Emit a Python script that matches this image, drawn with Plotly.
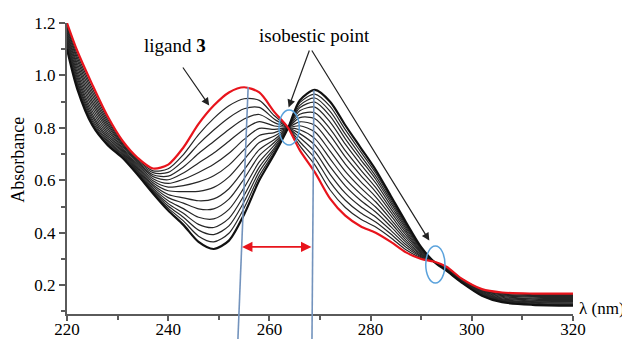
import plotly.graph_objects as go

# Wavelengths (nm)
wavelength = [220, 222, 225, 228, 231, 234, 237, 240, 243, 246, 249, 252, 255, 258, 261, 263.7,
              266, 269, 272, 275, 278, 281, 284, 287, 290, 292.5, 295, 298, 302, 306, 312, 320]

# Ligand 3 (red) spectrum
curve_ligand = [1.200, 1.095, 0.965, 0.845, 0.750, 0.685, 0.645, 0.660, 0.725, 0.815, 0.885, 0.935, 0.955, 0.935, 0.860, 0.800,
                0.715, 0.630, 0.530, 0.465, 0.425, 0.400, 0.365, 0.325, 0.300, 0.290, 0.270, 0.225, 0.185, 0.172, 0.168, 0.168]
# Titration spectra (black)
curve_01 = [1.191, 1.082, 0.951, 0.835, 0.744, 0.679, 0.636, 0.644, 0.698, 0.774, 0.836, 0.884, 0.911, 0.905, 0.846, 0.800,
            0.732, 0.658, 0.563, 0.496, 0.452, 0.422, 0.381, 0.335, 0.304, 0.290, 0.269, 0.224, 0.183, 0.169, 0.164, 0.164]
curve_02 = [1.183, 1.070, 0.939, 0.826, 0.739, 0.674, 0.629, 0.630, 0.675, 0.738, 0.792, 0.839, 0.873, 0.878, 0.833, 0.800,
            0.747, 0.684, 0.593, 0.524, 0.476, 0.441, 0.395, 0.345, 0.308, 0.290, 0.267, 0.222, 0.181, 0.166, 0.161, 0.160]
curve_03 = [1.175, 1.059, 0.926, 0.817, 0.734, 0.669, 0.621, 0.616, 0.651, 0.702, 0.748, 0.794, 0.834, 0.851, 0.820, 0.800,
            0.763, 0.709, 0.623, 0.551, 0.500, 0.460, 0.409, 0.354, 0.311, 0.290, 0.266, 0.221, 0.179, 0.163, 0.157, 0.156]
curve_04 = [1.167, 1.047, 0.914, 0.809, 0.729, 0.664, 0.614, 0.602, 0.628, 0.666, 0.704, 0.749, 0.795, 0.824, 0.807, 0.800,
            0.778, 0.734, 0.652, 0.579, 0.524, 0.479, 0.423, 0.363, 0.315, 0.290, 0.265, 0.220, 0.177, 0.160, 0.154, 0.153]
curve_05 = [1.159, 1.036, 0.901, 0.800, 0.723, 0.658, 0.606, 0.588, 0.604, 0.630, 0.661, 0.703, 0.756, 0.798, 0.794, 0.800,
            0.793, 0.759, 0.682, 0.606, 0.548, 0.498, 0.437, 0.372, 0.318, 0.290, 0.264, 0.219, 0.175, 0.157, 0.150, 0.149]
curve_06 = [1.151, 1.024, 0.889, 0.791, 0.718, 0.653, 0.598, 0.574, 0.580, 0.594, 0.617, 0.658, 0.717, 0.771, 0.782, 0.800,
            0.808, 0.784, 0.711, 0.634, 0.572, 0.518, 0.451, 0.381, 0.322, 0.290, 0.263, 0.218, 0.173, 0.154, 0.147, 0.145]
curve_07 = [1.143, 1.012, 0.877, 0.782, 0.713, 0.648, 0.591, 0.560, 0.557, 0.558, 0.573, 0.613, 0.679, 0.744, 0.769, 0.800,
            0.823, 0.810, 0.741, 0.662, 0.596, 0.537, 0.465, 0.391, 0.326, 0.290, 0.261, 0.216, 0.171, 0.151, 0.143, 0.142]
curve_08 = [1.135, 1.001, 0.864, 0.773, 0.708, 0.643, 0.583, 0.546, 0.533, 0.522, 0.529, 0.568, 0.640, 0.717, 0.756, 0.800,
            0.839, 0.835, 0.771, 0.689, 0.620, 0.556, 0.479, 0.400, 0.329, 0.290, 0.260, 0.215, 0.169, 0.148, 0.140, 0.138]
curve_09 = [1.128, 0.991, 0.853, 0.766, 0.703, 0.638, 0.577, 0.534, 0.513, 0.491, 0.491, 0.528, 0.606, 0.694, 0.745, 0.800,
            0.852, 0.857, 0.796, 0.713, 0.641, 0.573, 0.491, 0.408, 0.332, 0.290, 0.259, 0.214, 0.167, 0.145, 0.137, 0.135]
curve_10 = [1.121, 0.980, 0.843, 0.758, 0.699, 0.634, 0.570, 0.522, 0.492, 0.459, 0.453, 0.489, 0.572, 0.670, 0.734, 0.800,
            0.865, 0.879, 0.822, 0.738, 0.662, 0.590, 0.503, 0.416, 0.336, 0.290, 0.258, 0.213, 0.165, 0.143, 0.134, 0.132]
curve_11 = [1.115, 0.972, 0.833, 0.751, 0.695, 0.630, 0.564, 0.511, 0.474, 0.432, 0.420, 0.455, 0.543, 0.650, 0.724, 0.800,
            0.877, 0.898, 0.845, 0.758, 0.680, 0.604, 0.514, 0.423, 0.338, 0.290, 0.257, 0.212, 0.164, 0.141, 0.131, 0.129]
curve_12 = [1.110, 0.964, 0.825, 0.746, 0.691, 0.626, 0.559, 0.502, 0.459, 0.410, 0.393, 0.426, 0.518, 0.633, 0.716, 0.800,
            0.886, 0.914, 0.863, 0.776, 0.695, 0.616, 0.523, 0.429, 0.341, 0.290, 0.257, 0.212, 0.162, 0.139, 0.129, 0.127]
curve_13 = [1.105, 0.957, 0.818, 0.740, 0.688, 0.623, 0.555, 0.494, 0.445, 0.387, 0.365, 0.398, 0.494, 0.617, 0.708, 0.800,
            0.896, 0.929, 0.882, 0.793, 0.710, 0.628, 0.531, 0.434, 0.343, 0.290, 0.256, 0.211, 0.161, 0.137, 0.127, 0.124]
curve_14 = [1.100, 0.950, 0.810, 0.735, 0.685, 0.620, 0.550, 0.485, 0.430, 0.365, 0.338, 0.370, 0.470, 0.600, 0.700, 0.800,
            0.905, 0.945, 0.900, 0.810, 0.725, 0.640, 0.540, 0.440, 0.345, 0.290, 0.255, 0.210, 0.160, 0.135, 0.125, 0.122]

x_ticks = [220, 240, 260, 280, 300, 320]
y_ticks = [0.2, 0.4, 0.6, 0.8, 1.0, 1.2]

SERIF = "Liberation Serif, Times New Roman, serif"
AXIS_COLOR = "#5a5a5a"

fig = go.Figure()

black_curves = [curve_01, curve_02, curve_03, curve_04, curve_05, curve_06, curve_07,
                curve_08, curve_09, curve_10, curve_11, curve_12, curve_13, curve_14]
for i, c in enumerate(black_curves):
    last = i == len(black_curves) - 1
    fig.add_trace(go.Scatter(
        x=wavelength, y=c, mode="lines",
        line=dict(color="#111111" if last else "#262626", width=2.2 if last else 1.2,
                  shape="spline", smoothing=0.8),
        hoverinfo="skip", showlegend=False))

fig.add_trace(go.Scatter(
    x=wavelength, y=curve_ligand, mode="lines",
    line=dict(color="#e8141c", width=2.2, shape="spline", smoothing=0.8),
    name="ligand 3", showlegend=False))

shapes = [
    # blue vertical markers of the two maxima
    dict(type="line", xref="x", yref="paper", x0=255.8, y0=0.780, x1=253.7, y1=-0.12,
         line=dict(color="#7393bd", width=1.6), layer="above"),
    dict(type="line", xref="x", yref="paper", x0=268.8, y0=0.769, x1=268.4, y1=-0.12,
         line=dict(color="#7393bd", width=1.6), layer="above"),
    # ellipses around the isosbestic points
    dict(type="circle", xref="x", yref="y", x0=261.9, x1=265.9, y0=0.735, y1=0.868,
         line=dict(color="#5aa2dc", width=1.5)),
    dict(type="circle", xref="x", yref="y", x0=290.9, x1=294.7, y0=0.208, y1=0.349,
         line=dict(color="#5aa2dc", width=1.5)),
]

annotations = [
    dict(x=241.3, y=1.116, xref="x", yref="y", text="ligand <b>3</b>", showarrow=False,
         font=dict(family=SERIF, size=19, color="black")),
    dict(x=248.1, y=0.885, ax=242.7, ay=1.036, xref="x", yref="y", axref="x", ayref="y",
         text="", showarrow=True, arrowhead=2, arrowsize=1.3, arrowwidth=1.2, arrowcolor="#222222"),
    dict(x=269.0, y=1.154, xref="x", yref="y", text="isobestic point", showarrow=False,
         font=dict(family=SERIF, size=19, color="black")),
    dict(x=263.8, y=0.878, ax=268.0, ay=1.101, xref="x", yref="y", axref="x", ayref="y",
         text="", showarrow=True, arrowhead=2, arrowsize=1.3, arrowwidth=1.2, arrowcolor="#222222"),
    dict(x=291.6, y=0.37, ax=268.2, ay=1.101, xref="x", yref="y", axref="x", ayref="y",
         text="", showarrow=True, arrowhead=2, arrowsize=1.3, arrowwidth=1.2, arrowcolor="#222222"),
    # red double-headed arrow between the maxima
    dict(x=268.3, y=0.346, ax=254.3, ay=0.346, xref="x", yref="y", axref="x", ayref="y",
         text="", showarrow=True, arrowhead=2, startarrowhead=2, arrowside="end+start",
         arrowsize=1.3, arrowwidth=1.6, arrowcolor="#e8141c"),
    dict(x=1.008, y=0.02, xref="paper", yref="paper", text="λ (nm)", showarrow=False,
         xanchor="left", yanchor="middle", font=dict(family=SERIF, size=17, color="black")),
    # y-axis title
    dict(x=-0.097, y=0.53, xref="paper", yref="paper", text="Absorbance", showarrow=False,
         textangle=-90, xanchor="center", yanchor="middle",
         font=dict(family=SERIF, size=18, color="black")),
]

# the page adds an 8px body margin, so the figure is sized to fit the 630x339 window
fig.update_layout(
    width=622, height=331,
    margin=dict(l=59, r=57, t=15, b=25, autoexpand=False),
    paper_bgcolor="white", plot_bgcolor="white",
    showlegend=False,
    font=dict(family=SERIF, size=17, color="black"),
    shapes=shapes, annotations=annotations,
    xaxis=dict(range=[220, 320], tickvals=x_ticks, ticks="outside", ticklen=5, tickwidth=1.5,
               tickcolor=AXIS_COLOR, showline=True, linecolor=AXIS_COLOR, linewidth=2,
               showgrid=False, zeroline=False, automargin=False, ticklabelstandoff=-6,
               minor=dict(dtick=10, tick0=220, ticks="outside", ticklen=4, tickcolor=AXIS_COLOR, tickwidth=1.5),
               tickfont=dict(family=SERIF, size=17, color="black")),
    yaxis=dict(range=[0.09, 1.2], tickvals=y_ticks, tickformat=".1f", ticks="outside", ticklen=6,
               tickwidth=1.5, tickcolor=AXIS_COLOR, showline=True, linecolor=AXIS_COLOR, linewidth=2,
               showgrid=False, zeroline=False, automargin=False,
               minor=dict(dtick=0.1, tick0=0.1, ticks="outside", ticklen=4, tickcolor=AXIS_COLOR, tickwidth=1.5),
               tickfont=dict(family=SERIF, size=17, color="black")),
)

fig.write_html("out.html")
